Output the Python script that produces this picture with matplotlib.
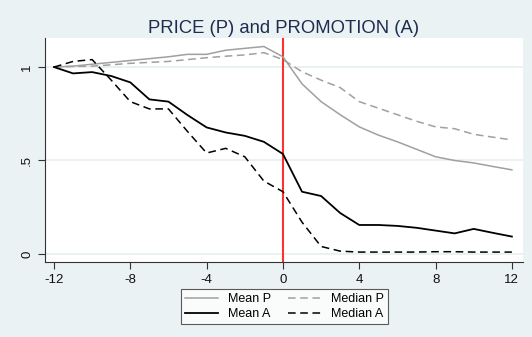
import numpy as np
import matplotlib.pyplot as plt

plt.rcParams['font.family'] = ['Liberation Sans', 'DejaVu Sans']

# ------------------------
# Data
# ------------------------
months = np.arange(-12, 13)

mean_p = [1.00, 1.005, 1.015, 1.025, 1.035, 1.045, 1.055, 1.068, 1.068, 1.09, 1.10, 1.11, 1.055,
          0.91, 0.815, 0.745, 0.68, 0.636, 0.60, 0.56, 0.52, 0.50, 0.487, 0.468, 0.45]
median_p = [1.00, 1.003, 1.005, 1.012, 1.02, 1.025, 1.03, 1.04, 1.05, 1.058, 1.065, 1.077, 1.04,
            0.975, 0.93, 0.89, 0.815, 0.78, 0.745, 0.71, 0.68, 0.67, 0.64, 0.625, 0.61]
mean_a = [1.00, 0.966, 0.973, 0.952, 0.918, 0.827, 0.815, 0.743, 0.677, 0.65, 0.632, 0.60, 0.535,
          0.333, 0.31, 0.219, 0.155, 0.155, 0.15, 0.14, 0.125, 0.11, 0.134, 0.113, 0.093]
median_a = [1.00, 1.03, 1.04, 0.93, 0.815, 0.776, 0.776, 0.655, 0.54, 0.565, 0.52, 0.39, 0.333,
            0.17, 0.04, 0.015, 0.01, 0.01, 0.01, 0.01, 0.012, 0.012, 0.01, 0.01, 0.01]

xticks = [-12, -8, -4, 0, 4, 8, 12]
yticks = [0, 0.5, 1]
ytick_labels = ['0', '.5', '1']

# ------------------------
# Figure
# ------------------------
bg = '#eaf2f3'
fig = plt.figure(figsize=(5.32, 3.37), dpi=100, facecolor=bg)
ax = fig.add_axes([0.0846, 0.2226, 0.8984, 0.6644])
ax.set_facecolor('white')

for y in yticks:
    ax.axhline(y, color='#e6eff1', lw=1.2, zorder=0)

ax.axvline(0, color='#ff3030', lw=1.5, zorder=1)

grey = '#a0a0a0'
l1, = ax.plot(months, mean_p, color=grey, lw=1.1, label='Mean P')
l2, = ax.plot(months, median_p, color=grey, lw=1.1, ls=(0, (5, 3)), label='Median P')
l3, = ax.plot(months, mean_a, color='black', lw=1.3, label='Mean A')
l4, = ax.plot(months, median_a, color='black', lw=1.1, ls=(0, (5, 3)), label='Median A')

ax.set_xlim(-12.47, 12.58)
ax.set_ylim(-0.043, 1.155)
ax.set_xticks(xticks)
ax.set_xticklabels([str(v) for v in xticks])
ax.set_yticks(yticks)
ax.set_yticklabels(ytick_labels, rotation=90, va='center')
ax.tick_params(direction='out', length=5, width=0.8, color='#333333',
               labelsize=9.5, labelcolor='#111111')

for side in ['top', 'right']:
    ax.spines[side].set_visible(False)
for side in ['left', 'bottom']:
    ax.spines[side].set_color('#333333')
    ax.spines[side].set_linewidth(0.8)

ax.set_title('PRICE (P) and PROMOTION (A)', fontsize=13.3, color='#1e2d4f', pad=4)

leg = fig.legend([l1, l3, l2, l4], ['Mean P', 'Mean A', 'Median P', 'Median A'],
                 ncol=2, loc='center', bbox_to_anchor=(0.535, 0.09),
                 fontsize=9, frameon=True, fancybox=False, handlelength=2.6,
                 columnspacing=1.4, handletextpad=0.8, borderpad=0.35, labelspacing=0.2)
leg.get_frame().set_edgecolor('#333333')
leg.get_frame().set_linewidth(0.8)
leg.get_frame().set_facecolor('white')

fig.savefig('out.png', dpi=100, facecolor=bg)
